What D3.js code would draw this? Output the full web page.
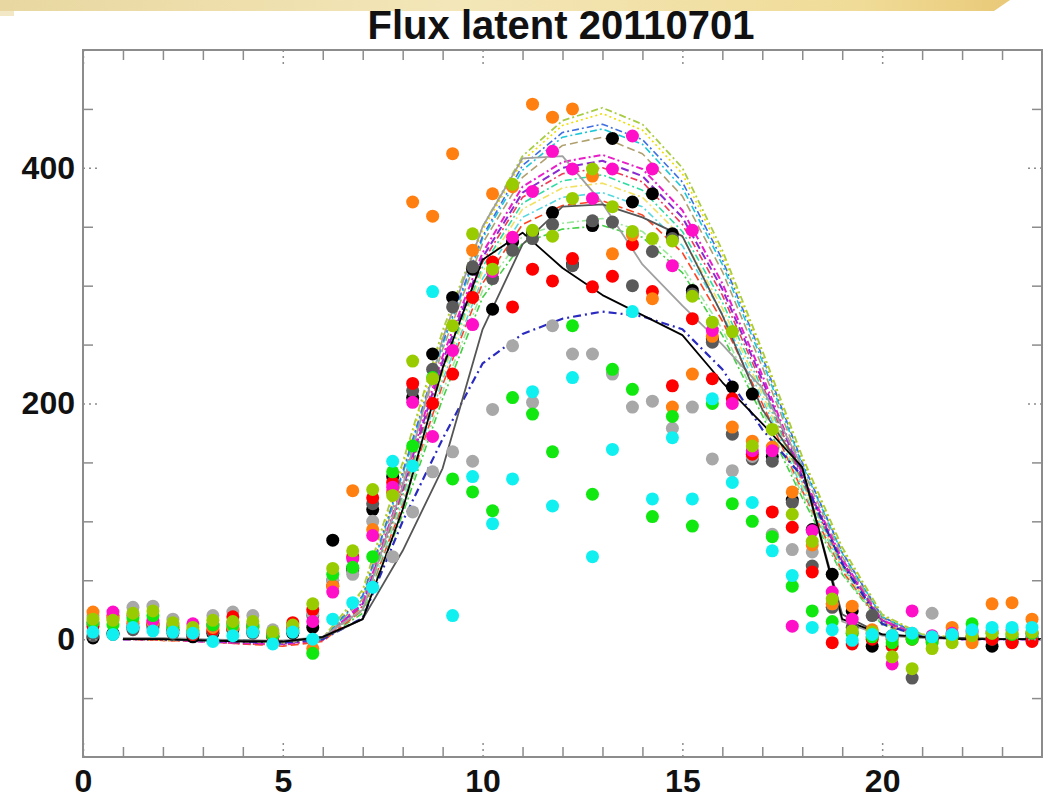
<!DOCTYPE html>
<html>
<head>
<meta charset="utf-8">
<script src="https://cdn.jsdelivr.net/npm/d3@7"></script>
<style>
  html, body { margin: 0; padding: 0; background: #ffffff; }
  svg { display: block; }
</style>
</head>
<body>
<script>
// ---- Data ------------------------------------------------------------
const chartTitle = "Flux latent 20110701";

// half-hourly observation times (h)
const obsHours = [0.25,0.75,1.25,1.75,2.25,2.75,3.25,3.75,4.25,4.75,5.25,5.75,
  6.25,6.75,7.25,7.75,8.25,8.75,9.25,9.75,10.25,10.75,11.25,11.75,
  12.25,12.75,13.25,13.75,14.25,14.75,15.25,15.75,16.25,16.75,17.25,17.75,
  18.25,18.75,19.25,19.75,20.25,20.75,21.25,21.75,22.25,22.75,23.25,23.75];

// hourly model output times (h)
const modelHours = [1,2,3,4,5,6,7,8,9,10,11,12,13,14,15,16,17,18,19,20,21,22,23,24];

// observed latent heat flux (W m-2), one array per station
const obsBlack   = [1,5,10,12,8,2,5,8,6,2,5,10, 84,60,110,138,205,242,290,314,280,337,345,362, 318,351,425,371,378,344,296,255,214,208,155,118, 93,55,24,-6,2,4,0,2,0,-6,-2,0];
const obsDark    = [3,4,8,10,5,4,6,9,5,3,6,20, 50,58,115,125,211,229,282,316,306,330,340,352, 317,355,354,300,329,340,293,252,174,153,151,116, 62,27,10,20,3,-33,0,3,2,0,1,2];
const obsGray    = [20,18,27,28,17,8,20,23,20,8,10,22, 50,55,100,70,108,142,159,151,195,249,201,266, 242,242,225,197,202,179,197,153,143,155,89,76, 74,30,5,2,0,5,22,3,5,2,3,4];
const obsRed     = [11,20,13,14,8,4,8,19,10,2,14,25, 45,70,120,133,217,200,225,290,320,282,314,304, 323,299,308,335,295,215,272,221,204,157,108,95, 57,-3,-4,0,-6,0,1,2,2,0,-3,-2];
const obsOrange  = [23,18,15,14,10,6,10,10,8,4,8,-8, 45,126,93,125,371,359,412,330,378,384,454,443, 450,393,327,343,289,197,225,257,180,168,163,125, 80,30,28,8,0,2,-2,10,-3,30,31,17];
const obsMagenta = [14,23,20,16,12,13,12,14,12,5,10,15, 40,68,88,129,201,172,245,267,312,341,380,414, 399,374,399,427,399,317,347,262,200,160,160,11, 92,40,17,5,-21,24,3,5,7,7,8,5];
const obsGreen   = [14,12,18,20,10,7,12,12,11,3,8,-12, 55,61,70,142,164,222,136,125,109,205,191,159, 266,123,229,212,104,189,96,200,115,100,87,45, 24,15,5,2,-3,0,-3,2,13,5,4,5];
const obsLime    = [17,16,22,24,14,10,16,15,15,6,12,30, 60,75,127,122,236,221,266,344,314,386,347,342, 374,399,367,346,340,338,291,269,261,164,178,106, 83,34,7,6,-15,-25,-8,-3,3,5,5,6];
const obsCyan    = [6,4,10,7,6,5,-2,3,6,-4,6,0, 17,31,44,151,147,295,20,138,98,136,210,113, 222,70,161,278,119,171,119,204,133,116,75,54, 10,8,-1,4,3,5,2,4,8,10,10,10];

// simulated latent heat flux (W m-2), one array per model run
const simBlack  = [0,0,-1,-2,-2,2,17,110,230,322,345,315,292,275,258,218,183,146,17,4,2,0,0,0];
const simDark   = [0,0,-1,-1,-2,1,17,75,145,263,335,367,369,358,342,275,195,144,21,4,2,1,0,0];
const simLight  = [1,1,0,-1,-1,2,25,130,255,350,408,410,370,318,283,250,213,146,15,3,1,0,0,0];
const simNavy   = [0,0,-1,-2,-3,0,18,100,170,234,259,272,278,274,263,229,178,138,64,13,2,0,0,0];
const simLime   = [0,0,-1,-2,-3,1,42,150,262,350,410,440,451,437,400,330,245,155,78,21,4,1,0,0];
const simYellow = [0,-1,-1,-2,-3,1,40,147,258,347,406,436,446,432,395,326,242,153,76,20,4,1,0,0];
const simBlue   = [0,0,-1,-2,-2,1,37,142,252,342,402,430,437,424,388,322,240,150,74,19,3,1,0,0];
const simCyan   = [0,0,-1,-1,-2,0,36,140,250,340,398,426,433,420,383,318,236,148,73,19,3,0,0,0];
const simTan    = [0,0,-1,-2,-3,0,34,137,246,336,392,419,426,412,376,312,231,145,70,18,3,0,0,0];
const simPink   = [0,0,-2,-3,-4,0,31,131,240,328,384,405,411,399,364,302,224,140,68,16,3,0,0,0];
const simPurple = [0,0,-2,-3,-4,0,30,128,236,324,379,400,406,393,358,297,220,138,66,16,3,0,0,0];
const simRose   = [0,-1,-2,-4,-5,-1,28,125,232,320,375,395,400,388,352,292,216,135,64,15,2,0,0,0];
const simAqua   = [0,0,-1,-2,-3,0,28,122,228,316,370,389,394,381,346,286,212,133,62,15,2,0,0,0];
const simSand   = [0,0,-1,-2,-3,0,27,120,225,312,365,383,387,375,341,281,208,131,61,14,2,0,0,0];
const simTeal   = [0,0,-1,-2,-2,0,26,117,220,306,358,375,379,367,334,276,204,128,60,14,2,0,0,0];
const simRed    = [0,-1,-2,-4,-6,-2,25,114,216,302,352,368,372,360,328,270,200,126,58,13,2,0,0,0];
const simMint   = [0,0,-1,-2,-2,0,24,110,210,296,342,353,357,346,316,263,194,123,56,13,2,0,0,0];
const simGreen  = [0,0,-1,-1,-2,0,22,106,204,290,336,348,351,341,311,258,190,120,55,12,2,0,0,0];

// axis ticks
const xMajorTicks = [0,5,10,15,20];
const xMinorTicks = [1,2,3,4,6,7,8,9,11,12,13,14,16,17,18,19,21,22,23];
const yMajorTicks = [0,200,400];
const yMinorTicks = [-50,50,100,150,250,300,350,450];

// ---- Styling of each series -----------------------------------------
const obsSeries = [
  {v: obsBlack,   c: "#000000"},
  {v: obsDark,    c: "#5a5a5a"},
  {v: obsGray,    c: "#a8a8a8"},
  {v: obsRed,     c: "#ff0000"},
  {v: obsOrange,  c: "#ff7f10"},
  {v: obsMagenta, c: "#ff10c8"},
  {v: obsGreen,   c: "#10e810"},
  {v: obsLime,    c: "#99cc00"},
  {v: obsCyan,    c: "#10f0f0"}
];

const simSeries = [
  {v: simGreen,  c: "#44d044", w: 1.6, d: "7,3,2,3"},
  {v: simMint,   c: "#9ae89a", w: 1.6, d: "7,3,2,3"},
  {v: simRed,    c: "#ff4422", w: 1.6, d: "8,4"},
  {v: simTeal,   c: "#55d8e0", w: 1.6, d: "7,3,2,3"},
  {v: simSand,   c: "#f2e060", w: 1.6, d: "7,3,2,3"},
  {v: simAqua,   c: "#30dca4", w: 1.6, d: "7,3,2,3"},
  {v: simRose,   c: "#f03a5a", w: 1.6, d: "7,3,2,3"},
  {v: simPurple, c: "#8a2bd0", w: 2.0, d: "8,4"},
  {v: simPink,   c: "#e81ec8", w: 2.0, d: "7,3,2,3"},
  {v: simTan,    c: "#b0a070", w: 1.6, d: "8,4"},
  {v: simCyan,   c: "#1cc8d8", w: 1.6, d: "7,3,2,3"},
  {v: simBlue,   c: "#3f6fe0", w: 1.6, d: "7,3,2,3"},
  {v: simYellow, c: "#eedd00", w: 1.6, d: "2,3"},
  {v: simLime,   c: "#a8cc44", w: 1.8, d: "7,3,2,3"},
  {v: simNavy,   c: "#2a2ac0", w: 2.2, d: "8,4,2,4"},
  {v: simLight,  c: "#a0a0a0", w: 1.8, d: null},
  {v: simDark,   c: "#555555", w: 1.8, d: null},
  {v: simBlack,  c: "#000000", w: 1.8, d: null}
];

// ---- Layout -----------------------------------------------------------
const W = 1045, H = 799;
const plotLeft = 83, plotRight = 1042, plotTop = 50, plotBottom = 757;
const axisColor = "#8c8c8c";
const fontFamily = "'Liberation Sans', Arial, Helvetica, sans-serif";

const svg = d3.select("body").append("svg")
  .attr("width", W).attr("height", H);

// page background with the warm band along the top edge
const defs = svg.append("defs");
const band = defs.append("linearGradient").attr("id", "band")
  .attr("x1", "0%").attr("x2", "100%");
band.append("stop").attr("offset", "0%").attr("stop-color", "#e8d7a0");
band.append("stop").attr("offset", "45%").attr("stop-color", "#f3e6b8");
band.append("stop").attr("offset", "85%").attr("stop-color", "#f0dc98");
band.append("stop").attr("offset", "100%").attr("stop-color", "#e9c978");

svg.append("rect").attr("width", W).attr("height", H).attr("fill", "#ffffff");
svg.append("path")
  .attr("d", "M0,0 L1010,0 L994,11 L0,11 Z")
  .attr("fill", "url(#band)");
svg.append("rect").attr("x", 0).attr("y", 11).attr("width", 14).attr("height", 5)
  .attr("fill", "#f3e8c6");

const x = d3.scaleLinear().domain([0, 24]).range([plotLeft, plotRight]);
const y = d3.scaleLinear().domain([-100, 500]).range([plotBottom, plotTop]);

// title
svg.append("text")
  .attr("x", 561).attr("y", 39)
  .attr("text-anchor", "middle")
  .attr("font-family", fontFamily)
  .attr("font-weight", "bold")
  .attr("font-size", 40)
  .attr("fill", "#111")
  .text(chartTitle);

// ---- Plot contents ----------------------------------------------------
const plot = svg.append("g");
const line = d3.line().x((d, i) => x(modelHours[i])).y(d => y(d));

plot.selectAll("path.sim")
  .data(simSeries)
  .join("path")
  .attr("class", "sim")
  .attr("d", s => line(s.v))
  .attr("fill", "none")
  .attr("stroke", s => s.c)
  .attr("stroke-width", s => s.w)
  .attr("stroke-dasharray", s => s.d)
  .attr("stroke-linejoin", "round");

const obsGroups = plot.selectAll("g.obs")
  .data(obsSeries)
  .join("g")
  .attr("class", "obs")
  .attr("fill", s => s.c);

obsGroups.selectAll("circle")
  .data(s => s.v.map((v, i) => ({t: obsHours[i], v})))
  .join("circle")
  .attr("cx", d => x(d.t))
  .attr("cy", d => y(d.v))
  .attr("r", 6.5);

// ---- Frame and ticks --------------------------------------------------
function styleTicks(g, dashed) {
  g.select(".domain").remove();
  g.selectAll(".tick line")
    .attr("stroke", axisColor)
    .attr("stroke-width", 1.5)
    .attr("stroke-dasharray", dashed ? "2,4" : null);
  g.selectAll(".tick text").remove();
}

// minor ticks (solid) on all four sides
svg.append("g").attr("transform", `translate(0,${plotBottom})`)
  .call(d3.axisBottom(x).tickValues(xMinorTicks).tickSize(-10)).call(g => styleTicks(g, false));
svg.append("g").attr("transform", `translate(0,${plotTop})`)
  .call(d3.axisTop(x).tickValues(xMinorTicks).tickSize(-10)).call(g => styleTicks(g, false));
svg.append("g").attr("transform", `translate(${plotLeft},0)`)
  .call(d3.axisLeft(y).tickValues(yMinorTicks).tickSize(-10)).call(g => styleTicks(g, false));
svg.append("g").attr("transform", `translate(${plotRight},0)`)
  .call(d3.axisRight(y).tickValues(yMinorTicks).tickSize(-10)).call(g => styleTicks(g, false));

// major ticks (dotted)
svg.append("g").attr("transform", `translate(0,${plotBottom})`)
  .call(d3.axisBottom(x).tickValues(xMajorTicks).tickSize(-17)).call(g => styleTicks(g, true));
svg.append("g").attr("transform", `translate(0,${plotTop})`)
  .call(d3.axisTop(x).tickValues(xMajorTicks).tickSize(-17)).call(g => styleTicks(g, true));
svg.append("g").attr("transform", `translate(${plotLeft},0)`)
  .call(d3.axisLeft(y).tickValues(yMajorTicks).tickSize(-17)).call(g => styleTicks(g, true));
svg.append("g").attr("transform", `translate(${plotRight},0)`)
  .call(d3.axisRight(y).tickValues(yMajorTicks).tickSize(-17)).call(g => styleTicks(g, true));

// frame
svg.append("rect")
  .attr("x", plotLeft).attr("y", plotTop)
  .attr("width", plotRight - plotLeft).attr("height", plotBottom - plotTop)
  .attr("fill", "none").attr("stroke", axisColor).attr("stroke-width", 2);

// tick labels
const xLabels = svg.append("g").attr("transform", `translate(0,${plotBottom})`)
  .call(d3.axisBottom(x).tickValues(xMajorTicks).tickSize(0).tickPadding(12).tickFormat(d3.format("d")));
const yLabels = svg.append("g").attr("transform", `translate(${plotLeft},0)`)
  .call(d3.axisLeft(y).tickValues(yMajorTicks).tickSize(0).tickPadding(8).tickFormat(d3.format("d")));
[xLabels, yLabels].forEach(g => {
  g.select(".domain").remove();
  g.selectAll(".tick text")
    .attr("font-family", fontFamily)
    .attr("font-weight", "bold")
    .attr("font-size", 32)
    .attr("fill", "#111");
});
</script>
</body>
</html>
